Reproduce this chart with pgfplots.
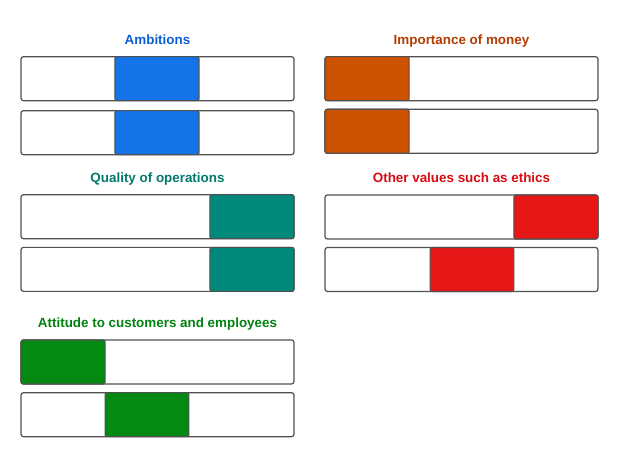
\documentclass[border=0pt]{standalone}
\usepackage{fontspec}
\setmainfont{Liberation Sans}
\usepackage{pgfplots}
\pgfplotsset{compat=1.18}

\definecolor{ambfill}{HTML}{1473E6}
\definecolor{ambtext}{HTML}{0A5FD6}
\definecolor{monfill}{HTML}{CC5200}
\definecolor{montext}{HTML}{B33C00}
\definecolor{qualfill}{HTML}{00897B}
\definecolor{qualtext}{HTML}{00796B}
\definecolor{ethfill}{HTML}{E81717}
\definecolor{ethtext}{HTML}{D90A12}
\definecolor{attfill}{HTML}{048A12}
\definecolor{atttext}{HTML}{00820F}
\definecolor{edge}{HTML}{505050}

% one panel: two full-width bars, each with one coloured segment (x in % of bar)
\pgfplotsset{
  panel/.style={
    scale only axis, width=273pt,
    xmin=0, xmax=100, ymin=0,
    y dir=reverse,
    enlargelimits=false,
    hide axis, clip=false,
    anchor=south west,
    title style={at={(0.5,1)}, anchor=base, yshift=6.3pt,
      font=\bfseries\fontsize{13.4}{16}\selectfont},
  },
  track/.style={xbar, bar width=44, fill=white, draw=edge,
    line width=1.2pt, rounded corners=2.5pt},
  seg/.style={fill=#1, draw=edge, line width=1.1pt, rounded corners=2pt},
}

\begin{document}
\begin{tikzpicture}[x=1pt,y=1pt]
\useasboundingbox (0,0) rectangle (619,457);

% Ambitions
\begin{axis}[panel, at={(21pt,302.3pt)}, height=98pt, ymax=98,
  title={Ambitions}, title style={text=ambtext}]
\addplot[track] coordinates {(100,22) (100,76)};
\addplot[seg=ambfill] coordinates {(34.4,0) (65.2,0) (65.2,44) (34.4,44)} -- cycle;
\addplot[seg=ambfill] coordinates {(34.4,54) (65.2,54) (65.2,98) (34.4,98)} -- cycle;
\end{axis}

% Importance of money
\begin{axis}[panel, at={(325pt,303.7pt)}, height=96.6pt, ymax=96.6,
  title={Importance of money}, title style={text=montext}]
\addplot[track] coordinates {(100,22) (100,74.6)};
\addplot[seg=monfill] coordinates {(0,0) (30.8,0) (30.8,44) (0,44)} -- cycle;
\addplot[seg=monfill] coordinates {(0,52.6) (30.8,52.6) (30.8,96.6) (0,96.6)} -- cycle;
\end{axis}

% Quality of operations
\begin{axis}[panel, at={(21pt,165.6pt)}, height=96.7pt, ymax=96.7,
  title={Quality of operations}, title style={text=qualtext}]
\addplot[track] coordinates {(100,22) (100,74.7)};
\addplot[seg=qualfill] coordinates {(69.2,0) (100,0) (100,44) (69.2,44)} -- cycle;
\addplot[seg=qualfill] coordinates {(69.2,52.7) (100,52.7) (100,96.7) (69.2,96.7)} -- cycle;
\end{axis}

% Other values such as ethics
\begin{axis}[panel, at={(325pt,165.5pt)}, height=96.5pt, ymax=96.5,
  title={Other values such as ethics}, title style={text=ethtext}]
\addplot[track] coordinates {(100,22) (100,74.5)};
\addplot[seg=ethfill] coordinates {(69.2,0) (100,0) (100,44) (69.2,44)} -- cycle;
\addplot[seg=ethfill] coordinates {(38.5,52.5) (69.2,52.5) (69.2,96.5) (38.5,96.5)} -- cycle;
\end{axis}

% Attitude to customers and employees
\begin{axis}[panel, at={(21pt,20.3pt)}, height=96.7pt, ymax=96.7,
  title={Attitude to customers and employees}, title style={text=atttext}]
\addplot[track] coordinates {(100,22) (100,74.7)};
\addplot[seg=attfill] coordinates {(0,0) (30.8,0) (30.8,44) (0,44)} -- cycle;
\addplot[seg=attfill] coordinates {(30.8,52.7) (61.5,52.7) (61.5,96.7) (30.8,96.7)} -- cycle;
\end{axis}
\end{tikzpicture}
\end{document}
